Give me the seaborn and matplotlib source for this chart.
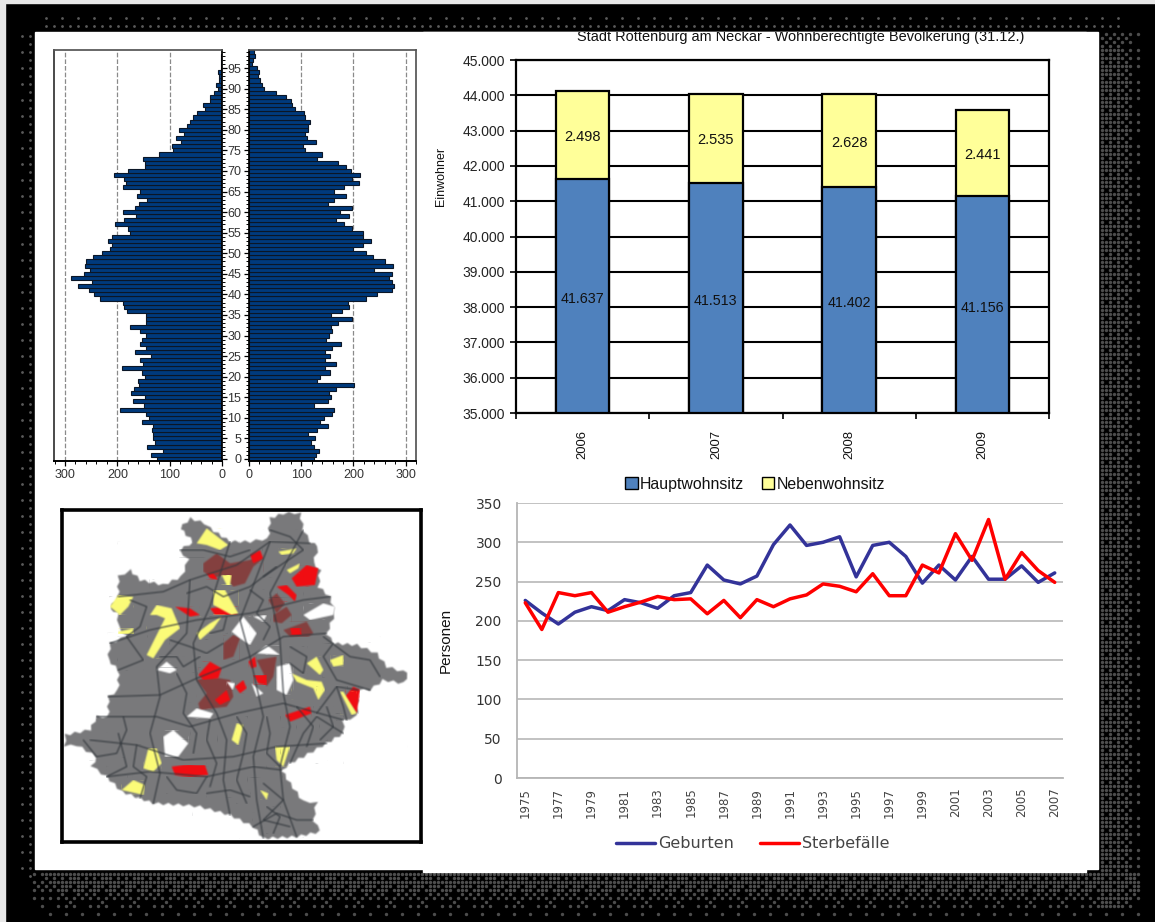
import numpy as np
import pandas as pd
import seaborn as sns
import matplotlib.pyplot as plt
from matplotlib.patches import Patch, Rectangle
from matplotlib.ticker import MultipleLocator
from matplotlib.transforms import Bbox

W, H = 1155, 922

# Alterspyramide, Alter 0 bis 99
ages = list(range(100))
left_vals = [125, 136, 112, 143, 128, 131, 132, 133, 131, 152,
             139, 145, 195, 149, 171, 147, 173, 169, 159, 161,
             147, 153, 192, 151, 157, 136, 167, 145, 157, 153,
             145, 156, 175, 145, 145, 145, 181, 187, 190, 234,
             244, 255, 275, 249, 289, 263, 253, 261, 259, 246,
             230, 214, 210, 218, 210, 175, 179, 204, 187, 164,
             190, 167, 159, 143, 163, 157, 189, 183, 187, 206,
             179, 147, 147, 151, 120, 93, 95, 79, 88, 73,
             83, 67, 62, 55, 48, 32, 37, 23, 23, 15,
             8, 11, 5, 5, 8, 2, 1, 1, 1, 0]
right_vals = [125, 129, 135, 124, 118, 127, 114, 131, 151, 137,
              143, 159, 162, 125, 151, 157, 153, 166, 202, 131,
              137, 155, 145, 166, 145, 155, 146, 159, 176, 147,
              153, 159, 157, 170, 197, 157, 178, 192, 190, 225,
              245, 274, 278, 274, 268, 274, 239, 276, 260, 237,
              225, 199, 219, 233, 219, 219, 197, 182, 166, 192,
              175, 198, 151, 162, 186, 162, 182, 210, 197, 213,
              196, 186, 171, 131, 140, 108, 104, 129, 111, 108,
              113, 113, 117, 108, 106, 88, 83, 80, 71, 52,
              29, 25, 22, 18, 19, 15, 6, 8, 11, 10]

# Wohnberechtigte Bevoelkerung
bar_years = ['2006', '2007', '2008', '2009']
haupt = [41637, 41513, 41402, 41156]
neben = [2498, 2535, 2628, 2441]

# Geburten und Sterbefaelle
line_years = list(range(1975, 2008))
geburten = [226, 210, 196, 211, 218, 213, 227, 223, 216, 232, 236, 271, 252, 247, 257, 297, 322,
            296, 300, 307, 256, 296, 300, 282, 248, 271, 252, 282, 253, 253, 270, 249, 261]
sterbefaelle = [223, 189, 236, 232, 236, 211, 218, 224, 231, 227, 228, 209, 226, 204, 227, 218, 228,
                233, 247, 244, 237, 260, 232, 232, 271, 261, 311, 277, 329, 253, 287, 264, 249]

# Karte, Umrisse in Bildpunkten der Vorlage
map_outline = [(390, 85), (420, 55), (465, 70), (480, 85), (540, 125), (600, 125), (655, 115), (660, 55),
               (700, 40), (750, 38), (760, 90), (780, 125), (805, 140), (790, 190), (810, 210), (805, 260),
               (840, 290), (855, 340), (830, 400), (850, 430), (920, 435), (980, 460), (1010, 500), (1075, 520),
               (1060, 550), (1000, 540), (960, 570), (925, 570), (920, 650), (880, 660), (880, 700), (830, 730),
               (760, 770), (720, 790), (695, 810), (720, 850), (760, 905), (800, 905), (790, 960), (810, 995),
               (740, 1010), (640, 1015), (610, 980), (540, 945), (450, 920), (400, 915), (310, 910), (270, 895),
               (215, 875), (170, 830), (125, 800), (140, 770), (80, 735), (45, 740), (45, 705), (120, 690),
               (140, 650), (175, 650), (175, 590), (205, 570), (205, 510), (175, 480), (180, 430), (230, 410),
               (205, 380), (205, 340), (180, 325), (205, 290), (205, 230), (240, 210), (270, 240), (340, 255),
               (395, 230), (415, 180), (390, 150), (430, 125)]
map_holes = [[(320, 510), (350, 485), (380, 510), (360, 520)],
             [(410, 650), (440, 625), (490, 640), (480, 655)],
             [(340, 710), (370, 690), (415, 730), (385, 770), (345, 770)],
             [(545, 395), (580, 350), (620, 400), (600, 435), (570, 415)],
             [(610, 350), (650, 345), (640, 365)],
             [(760, 345), (820, 310), (855, 320), (850, 345), (780, 360)],
             [(680, 500), (720, 490), (730, 540), (710, 585), (680, 570)],
             [(605, 550), (640, 580), (620, 590)],
             [(620, 460), (650, 435), (690, 465)],
             [(530, 545), (555, 550), (548, 570)]]
map_brown = [[(460, 190), (500, 160), (540, 190), (600, 180), (620, 170), (640, 175), (610, 200), (585, 250),
              (550, 260), (520, 225), (490, 235), (460, 215)],
             [(655, 300), (680, 280), (705, 310), (680, 340)],
             [(670, 345), (710, 320), (725, 345), (695, 370), (670, 365)],
             [(700, 390), (770, 365), (790, 400), (775, 410), (720, 410)],
             [(520, 430), (550, 405), (570, 415), (550, 470), (520, 480)],
             [(440, 540), (480, 530), (540, 540), (550, 590), (530, 620), (450, 630), (445, 610), (470, 580)],
             [(620, 480), (680, 470), (670, 530), (650, 560), (640, 520)]]
map_yellow = [[(440, 130), (470, 85), (535, 135), (510, 150), (470, 135)],
              [(685, 155), (740, 145), (730, 160), (695, 165)],
              [(710, 210), (750, 190), (745, 205), (720, 220)],
              [(180, 320), (205, 285), (250, 290), (235, 320), (210, 345)],
              [(205, 395), (250, 385), (250, 402), (205, 402)],
              [(300, 345), (320, 315), (365, 325), (390, 385), (345, 420), (310, 475), (290, 465), (330, 385),
               (345, 355), (320, 345)],
              [(490, 270), (525, 270), (565, 340), (545, 345), (500, 320), (490, 315)],
              [(515, 225), (545, 225), (540, 255), (530, 255)],
              [(440, 400), (480, 370), (515, 350), (490, 385), (450, 420)],
              [(770, 490), (800, 470), (820, 510), (810, 525)],
              [(840, 480), (880, 465), (880, 495), (850, 500)],
              [(725, 520), (770, 540), (815, 545), (825, 570), (805, 600), (790, 565), (740, 545)],
              [(870, 575), (880, 575), (920, 640), (905, 645)],
              [(545, 720), (560, 670), (580, 675), (565, 735)],
              [(280, 805), (295, 745), (320, 745), (335, 790), (310, 815)],
              [(215, 870), (250, 840), (285, 855), (280, 885)],
              [(675, 740), (720, 740), (700, 800), (680, 780)],
              [(630, 870), (655, 880), (650, 900)]]
map_red = [[(725, 235), (770, 195), (805, 205), (795, 255), (740, 260)],
           [(680, 260), (710, 255), (740, 285), (735, 305), (715, 285)],
           [(480, 325), (520, 320), (565, 345), (520, 345), (495, 345)],
           [(375, 320), (420, 325), (450, 345), (420, 350)],
           [(600, 165), (630, 150), (640, 175), (610, 190)],
           [(470, 220), (490, 220), (505, 240), (480, 235)],
           [(445, 525), (480, 485), (515, 505), (505, 535), (460, 540)],
           [(495, 600), (530, 570), (540, 600), (510, 615)],
           [(555, 560), (580, 540), (590, 565), (570, 580)],
           [(595, 485), (615, 470), (620, 500), (605, 505)],
           [(610, 525), (650, 525), (650, 555), (625, 550)],
           [(365, 800), (400, 795), (465, 795), (475, 825), (420, 830), (375, 825)],
           [(885, 590), (910, 560), (930, 570), (920, 640)],
           [(705, 645), (780, 620), (785, 640), (720, 665)],
           [(720, 385), (750, 385), (755, 405), (725, 405)]]
map_lines = [[(205, 290), (340, 275), (420, 240), (560, 195), (660, 125), (780, 130)],
             [(180, 430), (300, 390), (440, 360), (600, 340), (760, 300), (840, 290)],
             [(175, 590), (330, 585), (440, 535), (600, 470), (700, 410), (830, 400)],
             [(140, 650), (320, 650), (420, 680), (560, 640), (700, 610), (880, 660)],
             [(120, 720), (260, 735), (400, 780), (550, 770), (680, 740), (830, 730)],
             [(170, 830), (300, 815), (470, 830), (610, 800), (695, 810)],
             [(310, 910), (330, 820), (300, 700), (330, 590), (320, 500), (410, 400), (420, 240)],
             [(540, 945), (520, 840), (530, 720), (500, 640), (440, 540), (430, 430), (480, 320), (540, 125)],
             [(640, 1015), (620, 900), (610, 770), (640, 650), (600, 470), (570, 360), (660, 125)],
             [(740, 1010), (700, 900), (690, 800), (720, 680), (700, 580), (690, 420), (660, 280), (760, 90)],
             [(960, 570), (860, 540), (820, 470), (850, 430)],
             [(230, 410), (280, 480), (205, 510)],
             [(205, 700), (230, 800), (170, 830)],
             [(610, 980), (680, 940), (740, 960), (790, 960)],
             [(640, 850), (700, 900), (640, 960), (720, 980)],
             [(880, 700), (800, 650), (760, 700), (720, 790)],
             [(925, 570), (860, 560), (800, 640)],
             [(390, 150), (460, 150), (540, 170), (600, 150)],
             [(660, 90), (720, 110), (760, 150), (700, 190), (640, 230)],
             [(240, 300), (290, 320), (270, 380), (230, 410)],
             [(410, 280), (470, 260), (520, 290), (600, 260), (680, 200)],
             [(360, 420), (420, 440), (470, 460), (520, 430)],
             [(380, 520), (410, 580), (400, 640), (440, 700), (430, 760)],
             [(480, 660), (470, 720), (500, 790), (480, 860)],
             [(560, 650), (590, 700), (580, 760), (560, 840), (590, 910)],
             [(650, 650), (660, 700), (650, 760), (690, 800)],
             [(740, 620), (790, 680), (770, 740)],
             [(830, 620), (850, 680), (810, 720)],
             [(100, 720), (140, 770), (200, 760), (230, 690), (220, 650)],
             [(260, 735), (250, 800), (290, 830), (270, 895)],
             [(350, 830), (380, 870), (440, 880), (470, 830)],
             [(470, 880), (540, 870), (600, 890)],
             [(650, 920), (690, 950), (670, 1000)],
             [(720, 440), (770, 470), (760, 520), (720, 490)],
             [(820, 410), (900, 470), (960, 480), (990, 530)],
             [(860, 560), (880, 620), (890, 660)],
             [(600, 270), (640, 300), (620, 340), (660, 380), (640, 420)],
             [(480, 400), (520, 390), (530, 350)],
             [(450, 470), (400, 500), (380, 470), (330, 470)]]


def soften(arr, dpi):
    # leichte Unschaerfe wie im hochskalierten Originalbild, nur im Alphakanal
    out = arr.copy()
    solid = arr[..., 3] > 0.5
    if solid.any():
        out[..., :3] = arr[solid][0, :3]
    alpha = arr[..., 3]
    for axis in (0, 1):
        alpha = (np.roll(alpha, 1, axis) + 2 * alpha + np.roll(alpha, -1, axis)) / 4
    out[..., 3] = alpha
    return out, 0, 0


def serrate(points, step=14, amp=4):
    # ausgefranster Umriss der Gemarkung
    pts = np.array(points + points[:1], dtype=float)
    result = []
    k = 0
    for a, b in zip(pts[:-1], pts[1:]):
        n = max(int(np.hypot(*(b - a)) // step), 1)
        normal = np.array([-(b - a)[1], (b - a)[0]]) / np.hypot(*(b - a))
        for t in np.arange(n) / n:
            result.append(a + (b - a) * t + normal * amp * (-1) ** k)
            k += 1
    return np.array(result)


sns.set_theme(style='white')
plt.rcParams['font.family'] = ['Liberation Sans', 'DejaVu Sans']

fig = plt.figure(figsize=(W / 100, H / 100), dpi=100, facecolor='black')


def px_axes(left, top, right, bottom):
    return fig.add_axes([left / W, 1 - bottom / H, (right - left) / W, (bottom - top) / H])


# Seite mit Rahmen
page = fig.add_axes([0, 0, 1, 1], zorder=0)
page.set_xlim(0, W)
page.set_ylim(H, 0)
page.axis('off')
page.add_patch(Rectangle((5, 3), W, H, color='black', zorder=0))
page.add_patch(Rectangle((0, 0), W, 3, color='#e8e8e8', zorder=0))
page.add_patch(Rectangle((0, 0), 5, H, color='#e8e8e8', zorder=0))
page.add_patch(Rectangle((35, 32), 1063, 837, color='white', zorder=2))
page.add_patch(Rectangle((423, 32), 663, 840, color='white', zorder=2))

# Rasterpunkte im Rahmen
bayer = np.array([[0, 32, 8, 40, 2, 34, 10, 42], [48, 16, 56, 24, 50, 18, 58, 26],
                  [12, 44, 4, 36, 14, 46, 6, 38], [60, 28, 52, 20, 62, 30, 54, 22],
                  [3, 35, 11, 43, 1, 33, 9, 41], [51, 19, 59, 27, 49, 17, 57, 25],
                  [15, 47, 7, 39, 13, 45, 5, 37], [63, 31, 55, 23, 61, 29, 53, 21]]) / 64
gx, gy = np.meshgrid(np.arange(34, W, 4), np.arange(30, H, 4))
level_r = np.interp(gx - 1100, [-1, 0, 20, 32, 46, 48], [0, 0.85, 0.8, 0.35, 0.04, 0])
level_b = np.interp(gy - 872, [-1, 0, 16, 24, 44, 48], [0, 0.85, 0.8, 0.35, 0.04, 0])
level_r = np.where(gy < 910, level_r, 0)
level_b = np.where(gx < 1140, level_b, 0)
level = np.maximum(level_r * np.interp(gy, [30, 60], [0.4, 1]),
                   level_b * np.interp(gx, [34, 60], [0.4, 1]))
lit = level > bayer[(gy // 4) % 8, (gx // 4) % 8]
page.scatter(gx[lit], gy[lit], s=6, marker='o', color='#4d4d4d', linewidths=0, zorder=1)
top_x = np.arange(46, 1120, 8)
page.scatter(top_x, np.full(top_x.size, 26), s=4, color='#5a5a5a', linewidths=0, zorder=1)
page.scatter(top_x[::2], np.full(top_x[::2].size, 18), s=4, color='#5a5a5a', linewidths=0, zorder=1)
left_y = np.arange(36, 880, 8)
page.scatter(np.full(left_y.size, 30), left_y, s=4, color='#5a5a5a', linewidths=0, zorder=1)
page.scatter(np.full(left_y[::2].size, 22), left_y[::2], s=4, color='#5a5a5a', linewidths=0, zorder=1)

title = page.text(801, 37, 'Stadt Rottenburg am Neckar - Wohnberechtigte Bevölkerung (31.12.)',
                  ha='center', va='center', fontsize=10.45, color='#111111', zorder=3)
title.set_clip_on(True)
title.set_clip_box(Bbox([[423, 0], [1098, H - 32]]))

# Alterspyramide
pyr_color = '#003a7d'
for side, vals, box in (('left', left_vals, (54, 50, 222, 461)), ('right', right_vals, (249, 50, 416, 461))):
    ax = px_axes(*box)
    sns.barplot(x=vals, y=ages, orient='y', native_scale=True, width=1, color=pyr_color, saturation=1,
                edgecolor='#0b1626', linewidth=0.8, ax=ax)
    ax.set_ylim(-0.5, 99.4)
    ax.set_xlim((321, 0) if side == 'left' else (0, 320))
    ax.set_xticks([0, 100, 200, 300])
    ax.xaxis.set_minor_locator(MultipleLocator(20))
    ax.set_yticks(range(0, 100, 5))
    ax.yaxis.set_minor_locator(MultipleLocator(1))
    ax.grid(axis='x', color='#8a8a8a', linestyle='--', linewidth=0.9)
    ax.set_axisbelow(True)
    ax.set_xlabel('')
    ax.set_ylabel('')
    if side == 'left':
        ax.yaxis.tick_right()
        ax.tick_params(axis='y', which='both', labelright=False)
        ax.spines['left'].set_color('#333333')
        ax.spines['right'].set_color('black')
    else:
        ax.spines['left'].set_color('black')
        ax.spines['right'].set_color('#555555')
    ax.spines['top'].set_color('#555555')
    ax.spines['bottom'].set_color('black')
    ax.spines['bottom'].set_linewidth(1.4)
    ax.tick_params(axis='both', which='major', length=3.5, width=0.9, color='black',
                   labelsize=9, labelcolor='#333333', bottom=True, pad=2)
    ax.tick_params(axis='both', which='minor', length=2, width=0.7, color='black', bottom=True)
    if side == 'left':
        ax.tick_params(axis='y', which='both', right=True, left=False)
    else:
        ax.tick_params(axis='y', which='both', left=True)

# Karte
ax = px_axes(62, 510, 421, 842)
ax.set_xlim(36, 1113)
ax.set_ylim(1026, 30)
ax.set_xticks([])
ax.set_yticks([])
for s in ax.spines.values():
    s.set_color('black')
    s.set_linewidth(2.6)
map_artists = []
rough = serrate(map_outline)
map_artists += ax.fill(rough[:, 0], rough[:, 1], color='#79797b', lw=0)
for poly in map_brown:
    map_artists += ax.fill(*zip(*poly), color='#84403f', lw=0)
for line in map_lines:
    map_artists += ax.plot(*zip(*line), color='#33383d', lw=0.8, solid_joinstyle='round')
for poly in map_red:
    map_artists += ax.fill(*zip(*poly), color='#f00d12', lw=0)
for poly in map_yellow:
    map_artists += ax.fill(*zip(*poly), color='#fbfb78', lw=0)
for poly in map_holes:
    map_artists += ax.fill(*zip(*poly), color='white', lw=0)
for artist in map_artists:
    artist.set_agg_filter(soften)

# Einwohner, gestapelt
ax = px_axes(516, 60, 1049, 413)
totals = [h + n for h, n in zip(haupt, neben)]
bar_kws = dict(width=0.4, saturation=1, edgecolor='black', linewidth=1.6, ax=ax)
sns.barplot(x=bar_years, y=totals, color='#ffff99', **bar_kws)
sns.barplot(x=bar_years, y=haupt, color='#4f81bd', **bar_kws)
ax.set_ylim(35000, 45000)
ax.set_xlim(-0.5, 3.5)
yticks = list(range(35000, 45001, 1000))
ax.set_yticks(yticks)
ax.set_yticklabels([f'{v:,}'.replace(',', '.') for v in yticks])
ax.grid(axis='y', color='black', linewidth=1.5)
ax.set_axisbelow(True)
for s in ax.spines.values():
    s.set_color('black')
    s.set_linewidth(1.6)
ax.set_xticks(np.arange(-0.5, 4), minor=True)
ax.tick_params(axis='x', which='minor', length=4, width=1.2, color='black', bottom=True)
ax.tick_params(axis='x', which='major', length=0, labelrotation=90, labelsize=9.4, pad=12, labelcolor='#111111')
ax.tick_params(axis='y', length=4, width=1.2, color='black', left=True, labelsize=10, labelcolor='#222222', pad=4)
ax.set_xlabel('')
ax.set_ylabel('Einwohner', fontsize=9, color='#111111')
ax.yaxis.set_label_coords(-0.129, 0.67)
for i, (h, n) in enumerate(zip(haupt, neben)):
    ax.text(i, (35000 + h) / 2 - 90, f'{h:,}'.replace(',', '.'), ha='center', va='center', fontsize=10.3, color='#111111')
    ax.text(i, h + n / 2 - 60, f'{n:,}'.replace(',', '.'), ha='center', va='center', fontsize=10.5, color='#111111')
ax.legend(handles=[Patch(facecolor='#4f81bd', edgecolor='black', label='Hauptwohnsitz'),
                   Patch(facecolor='#ffff99', edgecolor='black', label='Nebenwohnsitz')],
          loc='center', bbox_to_anchor=(755 / W, 1 - 484 / H), bbox_transform=fig.transFigure, ncol=2,
          frameon=False, fontsize=11.4, handlelength=0.8, handleheight=0.8, handletextpad=0.15,
          columnspacing=1.1, borderpad=0, labelcolor='#111111')

# Geburten und Sterbefaelle
line_df = pd.DataFrame({'Jahr': line_years * 2, 'Personen': geburten + sterbefaelle,
                        'Art': ['Geburten'] * len(line_years) + ['Sterbefälle'] * len(line_years)})
ax = px_axes(517, 503, 1063, 778)
sns.lineplot(data=line_df, x='Jahr', y='Personen', hue='Art', palette=['#333399', '#ff0000'],
             linewidth=2.5, errorbar=None, ax=ax)
ax.set_xlim(1974.5, 2007.5)
ax.set_ylim(0, 350)
ax.set_yticks(range(0, 351, 50))
ax.set_xticks(line_years[::2])
ax.grid(axis='y', color='#bdbdbd', linewidth=1.3)
ax.set_axisbelow(True)
for side in ('top', 'right'):
    ax.spines[side].set_visible(False)
for side in ('left', 'bottom'):
    ax.spines[side].set_color('#b5b5b5')
    ax.spines[side].set_linewidth(1.3)
ax.tick_params(axis='x', length=0, labelrotation=90, labelsize=8.5, pad=7, labelcolor='#444444')
ax.tick_params(axis='y', length=0, labelsize=10, pad=11, labelcolor='#333333')
for lab in ax.get_xticklabels() + ax.get_yticklabels():
    lab.set_family(['DejaVu Sans'])
ax.set_xlabel('')
ax.set_ylabel('Personen', fontsize=11, color='#111111')
ax.yaxis.set_label_coords(-0.117, 0.50)
handles, labels = ax.get_legend_handles_labels()
leg = ax.legend(handles, labels, loc='center', bbox_to_anchor=(753 / W, 1 - 844 / H), bbox_transform=fig.transFigure,
                ncol=2, frameon=False, fontsize=11.5, handlelength=2.45, handletextpad=0.2, columnspacing=1.6,
                borderpad=0, labelcolor='#444444')
for lab in leg.get_texts():
    lab.set_family(['DejaVu Sans'])

fig.savefig('out.png', dpi=100, facecolor='black')
